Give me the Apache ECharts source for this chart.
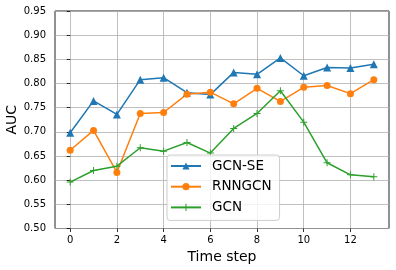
<!DOCTYPE html>
<html>
<head>
<meta charset="utf-8">
<script src="https://cdn.jsdelivr.net/npm/echarts@6/dist/echarts.min.js"></script>
<style>
html,body{margin:0;padding:0;background:#fff;}
#c{width:396px;height:270px;}
</style>
</head>
<body>
<div id="c"></div>
<script>
const timeSteps = [0,1,2,3,4,5,6,7,8,9,10,11,12,13];
const gcnSE  = [0.698,0.764,0.736,0.808,0.812,0.781,0.777,0.823,0.819,0.853,0.816,0.833,0.832,0.840];
const rnnGCN = [0.662,0.703,0.616,0.738,0.740,0.778,0.782,0.758,0.790,0.763,0.792,0.796,0.779,0.808];
const gcn    = [0.596,0.620,0.629,0.667,0.660,0.678,0.656,0.707,0.738,0.785,0.720,0.636,0.611,0.607];
const xTicks = [0,2,4,6,8,10,12];
const seriesNames = ['GCN-SE','RNNGCN','GCN'];

const pairs = arr => timeSteps.map((t,i)=>[t,arr[i]]);
const font = 'DejaVu Sans';
const plusPath = 'path://M6,0H8V6H14V8H8V14H6V8H0V6H6Z';

const chart = echarts.init(document.getElementById('c'), null, {renderer:'canvas'});
chart.setOption({
  animation:false,
  backgroundColor:'#fff',
  grid:{left:55,top:11,right:7,bottom:41.5,show:true,borderColor:'#222',borderWidth:1,backgroundColor:'transparent',
        containLabel:false, outerBoundsMode:'none'},
  legend:{
    left:167, top:155,
    orient:'vertical',
    data:seriesNames,
    itemWidth:30, itemHeight:9, itemGap:6.7,
    padding:[4,8,6,3],
    backgroundColor:'rgba(255,255,255,0.8)',
    borderColor:'#cccccc', borderWidth:1, borderRadius:3,
    textStyle:{fontFamily:font,fontSize:13.5,color:'#000',lineHeight:14,padding:[0,0,0,6]}
  },
  xAxis:{
    type:'value', min:-0.65, max:13.65, interval:2,
    name:'Time step', nameLocation:'middle', nameGap:21.5, nameMoveOverlap:false,
    nameTextStyle:{fontFamily:font,fontSize:14,color:'#000'},
    axisLine:{show:false},
    axisTick:{show:true,customValues:xTicks,length:3.5,lineStyle:{color:'#000',width:0.8}},
    axisLabel:{customValues:xTicks,fontFamily:font,fontSize:10,color:'#000',margin:7,formatter:v=>String(v)},
    splitLine:{show:true,lineStyle:{color:'#b0b0b0',width:0.8}}
  },
  yAxis:{
    type:'value', min:0.5, max:0.95, interval:0.05,
    name:'AUC', nameLocation:'middle', nameGap:36, nameMoveOverlap:false,
    nameTextStyle:{fontFamily:font,fontSize:14,color:'#000'},
    axisLine:{show:false},
    axisTick:{show:true,length:3.5,lineStyle:{color:'#000',width:0.8}},
    axisLabel:{fontFamily:font,fontSize:10,color:'#000',margin:9,formatter:v=>v.toFixed(2)},
    splitLine:{show:true,lineStyle:{color:'#b0b0b0',width:0.8}}
  },
  series:[
    {name:seriesNames[0],type:'line',data:pairs(gcnSE),symbol:'triangle',symbolSize:8,
     lineStyle:{color:'#1f77b4',width:1.5},itemStyle:{color:'#1f77b4'}},
    {name:seriesNames[1],type:'line',data:pairs(rnnGCN),symbol:'circle',symbolSize:7,
     lineStyle:{color:'#ff7f0e',width:1.5},itemStyle:{color:'#ff7f0e'}},
    {name:seriesNames[2],type:'line',data:pairs(gcn),symbol:plusPath,symbolSize:7,
     lineStyle:{color:'#2ca02c',width:1.5},itemStyle:{color:'#2ca02c'}}
  ]
});
</script>
</body>
</html>
